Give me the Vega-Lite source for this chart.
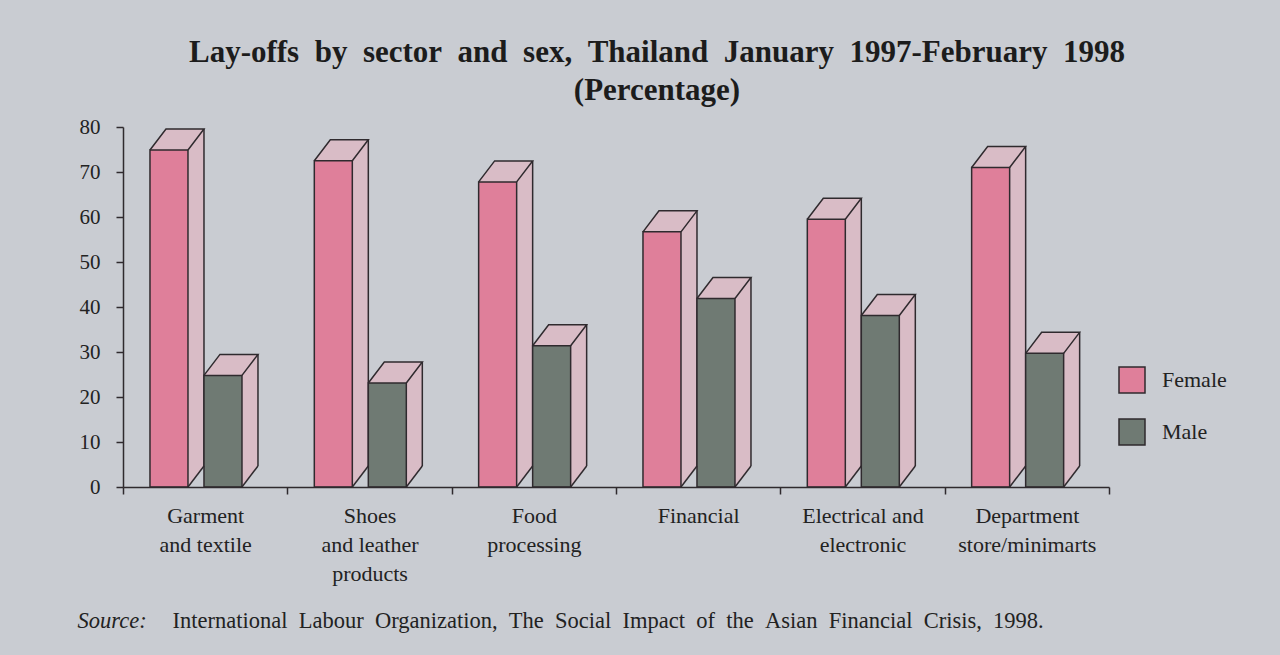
{
  "$schema": "https://vega.github.io/schema/vega-lite/v6.json",
  "width": 986,
  "height": 360,
  "autosize": {"type": "none"},
  "padding": {"left": 123, "top": 127, "right": 171, "bottom": 168},
  "background": "#c9ccd2",
  "title": {
    "text": ["Lay-offs\u2002by\u2002sector\u2002and\u2002sex,\u2002Thailand\u2002January\u20021997-February\u20021998", "(Percentage)"],
    "font": "Liberation Serif",
    "fontSize": 31,
    "fontWeight": "bold",
    "lineHeight": 38,
    "anchor": "middle",
    "frame": "group",
    "dx": 41,
    "offset": 9,
    "color": "#1c1c1c"
  },
  "data": {
    "values": [
      {"sector": "Garment|and textile", "sex": "Female", "value": 74.9},
      {"sector": "Garment|and textile", "sex": "Male", "value": 24.8},
      {"sector": "Shoes|and leather|products", "sex": "Female", "value": 72.5},
      {"sector": "Shoes|and leather|products", "sex": "Male", "value": 23.1},
      {"sector": "Food|processing", "sex": "Female", "value": 67.8},
      {"sector": "Food|processing", "sex": "Male", "value": 31.4},
      {"sector": "Financial", "sex": "Female", "value": 56.7},
      {"sector": "Financial", "sex": "Male", "value": 41.9},
      {"sector": "Electrical and|electronic", "sex": "Female", "value": 59.5},
      {"sector": "Electrical and|electronic", "sex": "Male", "value": 38.1},
      {"sector": "Department|store/minimarts", "sex": "Female", "value": 71.0},
      {"sector": "Department|store/minimarts", "sex": "Male", "value": 29.7}
    ]
  },
  "encoding": {
    "x": {
      "field": "sector",
      "type": "nominal",
      "sort": null,
      "scale": {"paddingInner": 0, "paddingOuter": 0},
      "axis": {
        "zindex": 1,
        "title": "International\u2002Labour\u2002Organization,\u2002The\u2002Social\u2002Impact\u2002of\u2002the\u2002Asian\u2002Financial\u2002Crisis,\u20021998.",
        "titleX": 49,
        "titleY": 133,
        "titleAlign": "left",
        "titleAnchor": "start",
        "titleBaseline": "middle",
        "titleFont": "Liberation Serif",
        "titleFontSize": 22.5,
        "titleFontWeight": "normal",
        "titleColor": "#222222",
        "labelAngle": 0,
        "labelExpr": "split(datum.label, '|')",
        "labelFont": "Liberation Serif",
        "labelFontSize": 22,
        "labelLineHeight": 29,
        "labelPadding": 11,
        "labelColor": "#222222",
        "labelLimit": 300,
        "labelOverlap": false,
        "tickBand": "extent",
        "tickSize": 7,
        "tickColor": "#2f2a2e",
        "tickWidth": 1.5,
        "domainColor": "#2f2a2e",
        "domainWidth": 1.5
      }
    },
    "xOffset": {
      "field": "sex",
      "type": "nominal",
      "scale": {"paddingInner": 0.2963, "paddingOuter": 0.6698, "align": 0.373}
    },
    "y": {
      "field": "value",
      "type": "quantitative",
      "scale": {"domain": [0, 80], "nice": false},
      "axis": {
        "zindex": 1,
        "title": "Source:",
        "titleAngle": 0,
        "titleX": -46,
        "titleY": 493,
        "titleAlign": "left",
        "titleBaseline": "middle",
        "titleFont": "Liberation Serif",
        "titleFontStyle": "italic",
        "titleFontWeight": "normal",
        "titleFontSize": 22.5,
        "titleColor": "#222222",
        "values": [0, 10, 20, 30, 40, 50, 60, 70, 80],
        "labelFont": "Liberation Serif",
        "labelFontSize": 21,
        "labelPadding": 16,
        "labelColor": "#222222",
        "tickSize": 7,
        "tickColor": "#2f2a2e",
        "tickWidth": 1.5,
        "domainColor": "#2f2a2e",
        "domainWidth": 1.5,
        "grid": false
      }
    }
  },
  "layer": [
    {
      "mark": {"type": "point", "clip": true, "shape": "M-19,0 L-3,-21 L35,-21 L35,420 L19,420 L19,0 Z", "size": 4, "filled": true, "fill": "#d9bcc6", "strokeWidth": 0, "opacity": 1}
    },
    {
      "mark": {"type": "point", "clip": true, "shape": "M35,-21 L35,420", "size": 4, "filled": false, "stroke": "#2f2a2e", "strokeWidth": 1.5, "opacity": 1}
    },
    {
      "mark": {"type": "point", "shape": "M19,0 L35,-21 L37,-21 L37,0 Z", "size": 4, "filled": true, "fill": "#c9ccd2", "strokeWidth": 0, "opacity": 1},
      "encoding": {"y": {"datum": 0, "type": "quantitative"}}
    },
    {
      "mark": {"type": "bar", "stroke": "#2f2a2e", "strokeWidth": 1.5},
      "encoding": {
        "color": {
          "field": "sex",
          "type": "nominal",
          "scale": {"domain": ["Female", "Male"], "range": ["#df7f9a", "#6f7a73"]},
          "legend": {
            "orient": "none",
            "legendX": 995,
            "legendY": 239,
            "title": null,
            "symbolType": "square",
            "symbolSize": 676,
            "symbolStrokeColor": "#2f2a2e",
            "symbolStrokeWidth": 1.5,
            "symbolOpacity": 1,
            "labelFont": "Liberation Serif",
            "labelFontSize": 22,
            "labelOffset": 16,
            "rowPadding": 20,
            "labelColor": "#222222"
          }
        }
      }
    },
    {
      "mark": {"type": "point", "shape": "M-19,0 L-3,-21 L35,-21 L19,0", "size": 4, "filled": false, "stroke": "#2f2a2e", "strokeWidth": 1.5, "opacity": 1}
    },
    {
      "mark": {"type": "point", "shape": "M19,0 L35,-21", "size": 4, "filled": false, "stroke": "#2f2a2e", "strokeWidth": 1.5, "opacity": 1},
      "encoding": {"y": {"datum": 0, "type": "quantitative"}}
    }
  ],
  "config": {
    "view": {"stroke": null}
  }
}
